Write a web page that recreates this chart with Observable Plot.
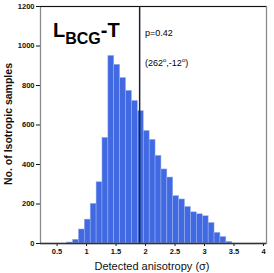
<!DOCTYPE html>
<html><head><meta charset="utf-8">
<script src="https://cdn.jsdelivr.net/npm/d3@7"></script>
<script src="https://cdn.jsdelivr.net/npm/@observablehq/plot@0.6"></script>
<style>body{margin:0;background:#fff;} svg{display:block;}</style>
</head><body><div id="chart"></div>
<script>
// Histogram bins (lower edge of each 0.1-wide bin) and counts
const binStart = [0.7,0.8,0.9,1.0,1.1,1.2,1.3,1.4,1.5,1.6,1.7,1.8,1.9,2.0,2.1,2.2,2.3,2.4,2.5,2.6,2.7,2.8,2.9,3.0,3.1,3.2,3.3,3.4];
const counts   = [5,19,71,121,201,310,535,950,905,838,773,722,670,570,525,444,375,334,240,223,185,158,148,138,104,54,33,8];
const binWidth = 0.1;
const detected = [1.9];
const xTicks = [0.5,1,1.5,2,2.5,3,3.5,4];
const yTicks = [0,200,400,600,800,1000,1200];
const xLabel = "Detected anisotropy (σ)";
const yLabel = "No. of Isotropic samples";
const pText = "p=0.42";
const dirLon = "262", dirLat = "-12";

const bins = binStart.map((lo, i) => ({lo, hi: lo + binWidth, n: counts[i]}));
const shift = 0.03;
const font = "'Liberation Sans', Arial, Helvetica, sans-serif";

const plot = Plot.plot({
  width: 274, height: 273,
  marginLeft: 40, marginRight: 8, marginTop: 6, marginBottom: 30,
  style: {fontFamily: font, fontSize: "7.5px", fontWeight: "bold", background: "white", color: "#111"},
  x: {domain: [0.219, 4.051], ticks: xTicks, tickFormat: d => String(d), tickSize: 3, tickPadding: 2, label: null},
  y: {domain: [0, 1200], ticks: yTicks, tickFormat: d => String(d), tickSize: 4, tickPadding: 2, label: null},
  marks: [
    Plot.rectY(bins, {x1: d => d.lo - shift, x2: d => d.hi - shift, y: "n", fill: "#4169e1", stroke: "#9fb4f2", strokeWidth: 0.5}),
    Plot.ruleX(detected, {stroke: "#1b2238", strokeWidth: 1.5}),
    Plot.frame({stroke: "#8a8a8a", strokeWidth: 1.3}),
    Plot.ruleY([yTicks[yTicks.length - 1]], {stroke: "#111", strokeWidth: 1}),
    Plot.ruleY([yTicks[0]], {stroke: "#333", strokeWidth: 1.3})
  ]
});
document.getElementById("chart").appendChild(plot);

const svg = d3.select(plot);
svg.append("text").attr("x", 152).attr("y", 270).attr("text-anchor", "middle")
  .attr("font-family", font).attr("font-size", 11).attr("font-weight", "normal").attr("fill", "#111").text(xLabel);
svg.append("text").attr("transform", "translate(11.5,124) rotate(-90)").attr("text-anchor", "middle")
  .attr("font-family", font).attr("font-size", 10.5).attr("font-weight", "bold").attr("fill", "#111").text(yLabel);

const t = svg.append("text").attr("x", 53).attr("y", 37).attr("text-anchor", "start").attr("font-family", font).attr("font-weight", "bold").attr("fill", "#000");
t.append("tspan").attr("font-size", 20).text("L");
t.append("tspan").attr("font-size", 16).attr("dy", 6.5).text("BCG");
t.append("tspan").attr("font-size", 20).attr("dy", -6.5).text("-T");

svg.append("text").attr("x", 145).attr("y", 36).attr("text-anchor", "start").attr("font-family", font).attr("font-size", 9)
  .attr("font-weight", "normal").attr("fill", "#000").text(pText);
const c = svg.append("text").attr("x", 145).attr("y", 66).attr("text-anchor", "start").attr("font-family", font).attr("font-size", 9)
  .attr("font-weight", "normal").attr("fill", "#000");
c.append("tspan").text("(" + dirLon);
c.append("tspan").attr("font-size", 6).attr("dy", -4).text("o");
c.append("tspan").attr("dy", 4).text("," + dirLat);
c.append("tspan").attr("font-size", 6).attr("dy", -4).text("o");
c.append("tspan").attr("dy", 4).text(")");
</script>
</body></html>
